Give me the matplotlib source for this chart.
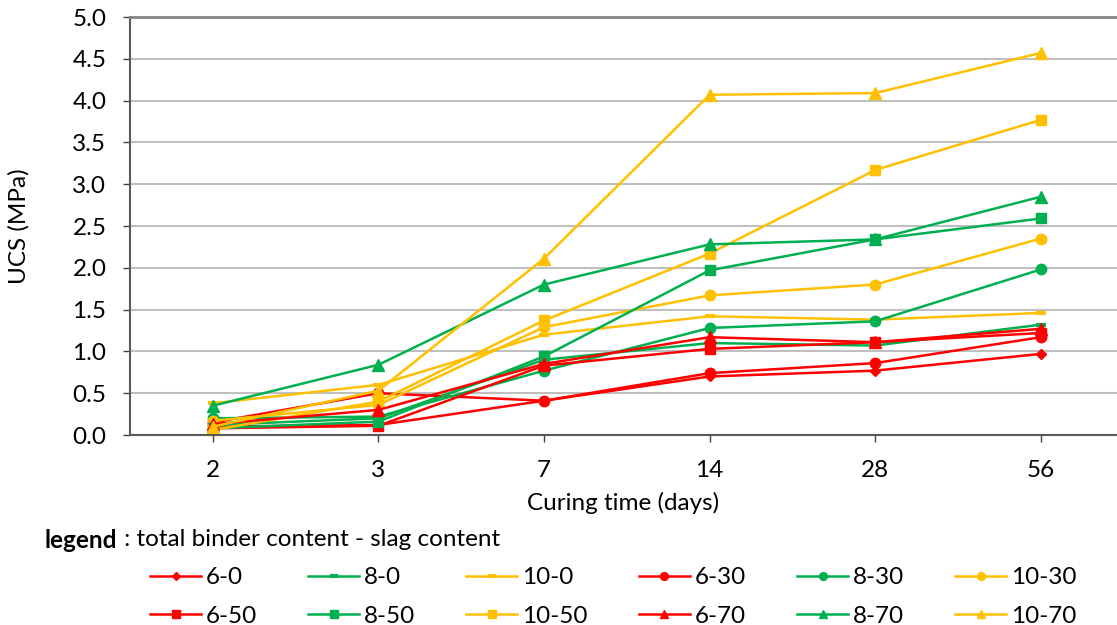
import matplotlib
matplotlib.use('Agg')
import matplotlib.pyplot as plt

plt.rcParams['font.family'] = ['Lato', 'DejaVu Sans']

days = ['2', '3', '7', '14', '28', '56']

# UCS (MPa), name = total binder content - slag content
ucs_6_0 = [0.10, 0.12, 0.41, 0.70, 0.77, 0.97]
ucs_8_0 = [0.12, 0.20, 0.90, 1.10, 1.07, 1.32]
ucs_10_0 = [0.38, 0.60, 1.20, 1.42, 1.38, 1.46]
ucs_6_30 = [0.15, 0.50, 0.41, 0.74, 0.86, 1.17]
ucs_8_30 = [0.20, 0.22, 0.77, 1.28, 1.36, 1.98]
ucs_10_30 = [0.17, 0.36, 1.29, 1.67, 1.80, 2.35]
ucs_6_50 = [0.08, 0.11, 0.83, 1.03, 1.11, 1.22]
ucs_8_50 = [0.08, 0.16, 0.94, 1.97, 2.34, 2.59]
ucs_10_50 = [0.06, 0.40, 1.37, 2.17, 3.17, 3.77]
ucs_6_70 = [0.13, 0.30, 0.85, 1.17, 1.11, 1.27]
ucs_8_70 = [0.35, 0.84, 1.80, 2.28, 2.34, 2.85]
ucs_10_70 = [0.10, 0.53, 2.11, 4.07, 4.09, 4.57]

labels = ['6-0', '8-0', '10-0', '6-30', '8-30', '10-30',
          '6-50', '8-50', '10-50', '6-70', '8-70', '10-70']
series = [ucs_6_0, ucs_8_0, ucs_10_0, ucs_6_30, ucs_8_30, ucs_10_30,
          ucs_6_50, ucs_8_50, ucs_10_50, ucs_6_70, ucs_8_70, ucs_10_70]

red = '#FF0000'
green = '#00B050'
yellow = '#FFC000'
colors = [red, green, yellow] * 4
markers = ['D', '_', '_', 'o', 'o', 'o', 's', 's', 's', '^', '^', '^']
msizes = [5.5, 7, 7, 7.5, 7.5, 7.5, 7.5, 7.5, 7.5, 8, 8, 8]

fs = 17.5

fig = plt.figure(figsize=(11.17, 6.25), dpi=100)
ax = fig.add_axes([130 / 1117, 190 / 625, 1.0 - 130 / 1117, 418 / 625])

x = list(range(len(days)))
handles = []
for i in range(len(series)):
    mew = 3 if markers[i] == '_' else 1
    h, = ax.plot(x, series[i], color=colors[i], lw=1.8, marker=markers[i],
                 ms=msizes[i], mew=mew, mec=colors[i], mfc=colors[i],
                 label=labels[i], clip_on=False)
    handles.append(h)

ax.set_xlim(-0.5, 5.46)
ax.set_ylim(0, 5.0)
ax.set_yticks([i * 0.5 for i in range(11)])
ax.set_yticklabels(['%.1f' % (i * 0.5) for i in range(11)])
ax.set_xticks(x)
ax.set_xticklabels(days)
ax.yaxis.grid(True, color='#BFBFBF', lw=1.5)
ax.set_axisbelow(True)
ax.spines['right'].set_visible(False)
ax.spines['top'].set_color('#868686')
ax.spines['top'].set_linewidth(2)
ax.spines['left'].set_color('#595959')
ax.spines['left'].set_linewidth(1.5)
ax.spines['bottom'].set_color('#595959')
ax.spines['bottom'].set_linewidth(1.5)
ax.tick_params(axis='both', labelsize=fs, direction='out', length=5,
               color='#404040', width=1)
ax.tick_params(axis='y', pad=12)
ax.tick_params(axis='x', pad=13)
ax.set_ylabel('UCS (MPa)', fontsize=fs)
ax.yaxis.set_label_coords(-0.102, 0.5)
ax.set_xlabel('Curing time (days)', fontsize=fs, labelpad=8)

t = fig.text(45 / 1117, 1 - 540 / 625, 'legend', fontsize=fs,
             fontweight='bold', va='center', ha='left')
ax.annotate(' : total binder content - slag content', xy=(1, 0.5),
            xycoords=t, va='center', ha='left', fontsize=fs)

# legend fills column-wise, reorder so the rows read 6-0 ... 10-30 / 6-50 ... 10-70
order = []
for c in range(6):
    order += [c, c + 6]
fig.legend([handles[i] for i in order], [labels[i] for i in order],
           ncol=6, loc='center left', bbox_to_anchor=(150 / 1117, 1 - 597 / 625),
           frameon=False, fontsize=fs, handlelength=2.1, handletextpad=0.2,
           columnspacing=2.1, labelspacing=0.72, markerscale=0.75,
           borderpad=0, borderaxespad=0)

fig.savefig('out.png', dpi=100)
